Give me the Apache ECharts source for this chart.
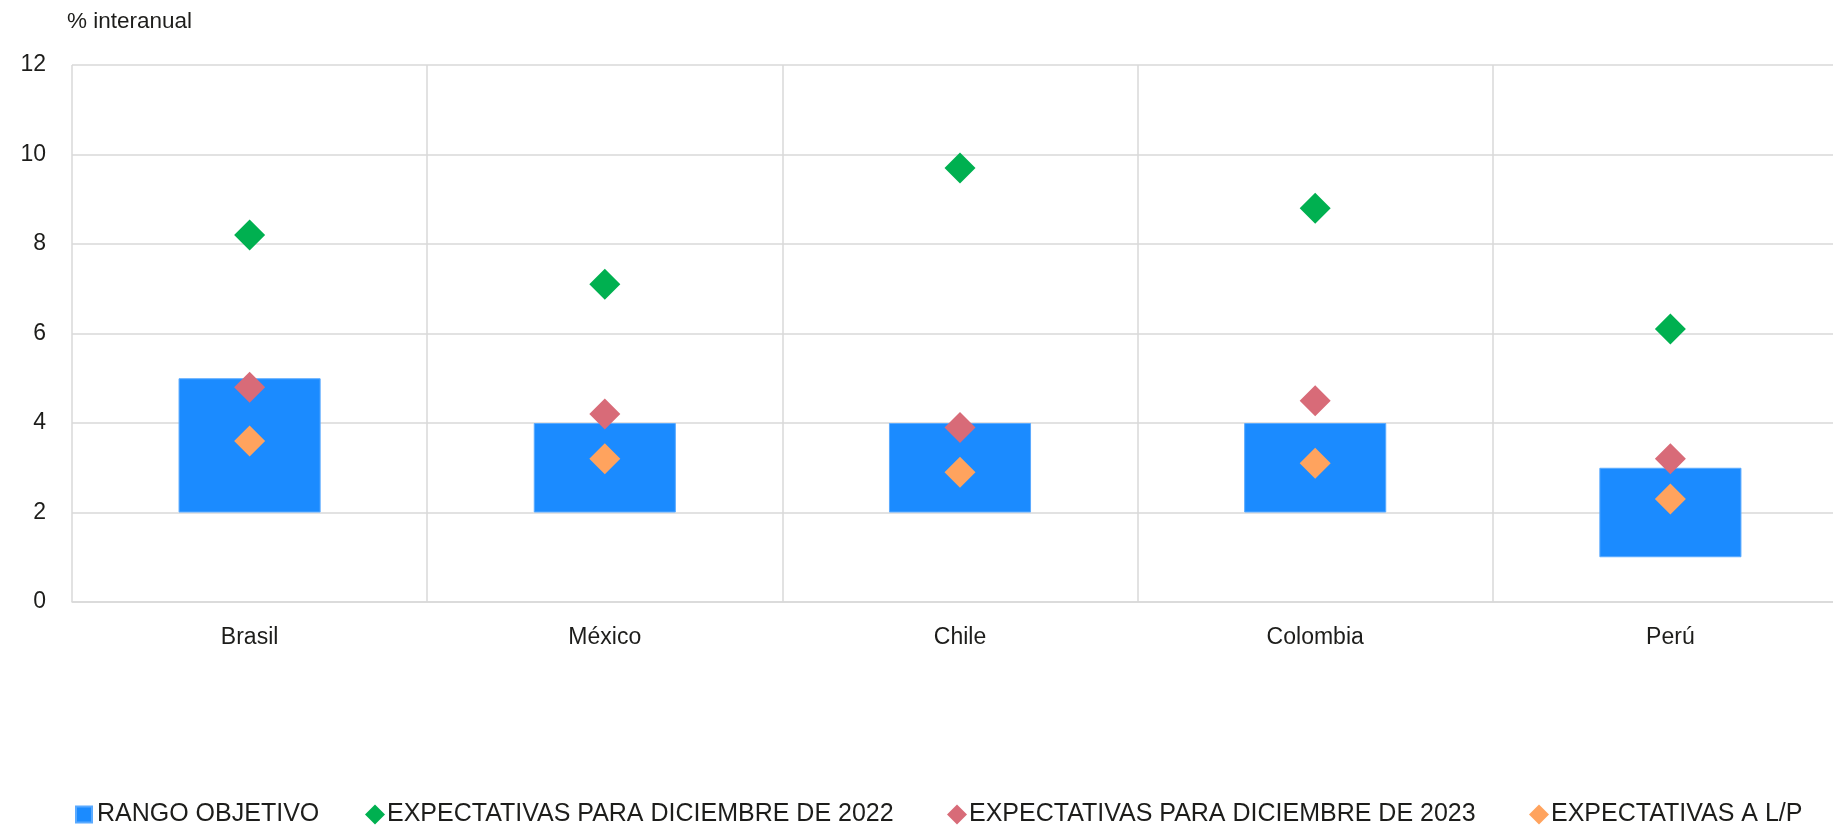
<!DOCTYPE html>
<html>
<head>
<meta charset="utf-8">
<style>
html,body{margin:0;padding:0;background:#fff;}
#chart{width:1833px;height:828px;}
</style>
<script src="https://cdn.jsdelivr.net/npm/echarts@6/dist/echarts.min.js"></script>
</head>
<body>
<div id="chart"></div>
<script>
const categories = ['Brasil', 'México', 'Chile', 'Colombia', 'Perú'];
const rangeLow = [2, 2, 2, 2, 1];
const rangeHigh = [5, 4, 4, 4, 3];
const exp2022 = [8.2, 7.1, 9.7, 8.8, 6.1];
const exp2023 = [4.8, 4.2, 3.9, 4.5, 3.2];
const expLP = [3.6, 3.2, 2.9, 3.1, 2.3];
const yTicks = [0, 2, 4, 6, 8, 10, 12];
const seriesNames = ['RANGO OBJETIVO', 'EXPECTATIVAS PARA DICIEMBRE DE 2022', 'EXPECTATIVAS PARA DICIEMBRE DE 2023', 'EXPECTATIVAS A L/P'];
const unitLabel = '% interanual';

const rangeSize = rangeHigh.map((h, i) => +(h - rangeLow[i]).toFixed(2));
const FONT = '"Liberation Sans", Arial, Helvetica, sans-serif';
const TXT = '#1d1d1b';
const legendLefts = [75, 365, 947, 1529];
const legendIcons = ['rect', 'diamond', 'diamond', 'diamond'];

const legends = seriesNames.map((n, i) => ({
  left: legendLefts[i], top: 802, padding: 0,
  itemWidth: i === 0 ? 16 : 20, itemHeight: i === 0 ? 16 : 20, itemGap: 0,
  textStyle: {fontFamily: FONT, fontSize: 25, color: TXT, padding: [0, 0, 0, i === 0 ? 0 : -3]},
  data: [{name: n, icon: legendIcons[i]}]
}));

const chart = echarts.init(document.getElementById('chart'), null, {renderer: 'canvas'});
chart.setOption({
  animation: false,
  backgroundColor: '#ffffff',
  title: {
    text: unitLabel,
    left: 67, top: 10, padding: 0,
    textStyle: {fontFamily: FONT, fontSize: 22.5, fontWeight: 'normal', color: TXT}
  },
  grid: {left: 72, top: 65, width: 1776, height: 537, containLabel: false, outerBoundsMode: 'none'},
  legend: legends,
  xAxis: {
    type: 'category',
    data: categories,
    boundaryGap: true,
    axisLine: {show: true, lineStyle: {color: '#d9d9d9', width: 1.5}},
    axisTick: {show: false},
    splitLine: {show: true, lineStyle: {color: '#d9d9d9', width: 1.5}},
    axisLabel: {fontFamily: FONT, fontSize: 23, color: TXT, margin: 24}
  },
  yAxis: {
    type: 'value',
    min: yTicks[0], max: yTicks[yTicks.length - 1], interval: yTicks[1] - yTicks[0],
    axisLine: {show: false},
    axisTick: {show: false},
    splitLine: {show: true, lineStyle: {color: '#d9d9d9', width: 1.5}},
    axisLabel: {fontFamily: FONT, fontSize: 23, color: TXT, margin: 26}
  },
  series: [
    {
      name: '__base', type: 'bar', stack: 'range', data: rangeLow,
      barWidth: '40%', itemStyle: {color: 'rgba(0,0,0,0)'}, silent: true
    },
    {
      name: seriesNames[0], type: 'bar', stack: 'range', data: rangeSize,
      barWidth: '40%', itemStyle: {color: '#1b8bff', borderColor: '#5aaaff', borderWidth: 1}
    },
    {
      name: seriesNames[1], type: 'scatter', data: exp2022, symbol: 'diamond',
      symbolSize: 31, itemStyle: {color: '#00b050', opacity: 1}, z: 5
    },
    {
      name: seriesNames[2], type: 'scatter', data: exp2023, symbol: 'diamond',
      symbolSize: 31, itemStyle: {color: '#d86b78', opacity: 1}, z: 5
    },
    {
      name: seriesNames[3], type: 'scatter', data: expLP, symbol: 'diamond',
      symbolSize: 31, itemStyle: {color: '#ffa35e', opacity: 1}, z: 5
    }
  ]
});
</script>
</body>
</html>
